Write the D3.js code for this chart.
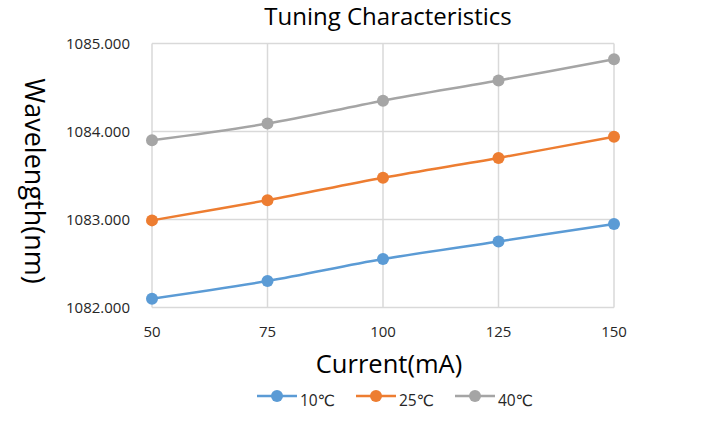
<!DOCTYPE html>
<html>
<head>
<meta charset="utf-8">
<script src="https://cdn.jsdelivr.net/npm/d3@7"></script>
<style>
  body { margin: 0; background: #fff; }
  svg { font-family: "Open Sans", "DejaVu Sans", sans-serif; }
</style>
</head>
<body>
<svg id="chart"></svg>
<script>
const currents = [50, 75, 100, 125, 150];
const wl10 = [1082.10, 1082.30, 1082.55, 1082.75, 1082.95];
const wl25 = [1082.99, 1083.22, 1083.475, 1083.70, 1083.94];
const wl40 = [1083.90, 1084.09, 1084.35, 1084.58, 1084.82];
const seriesNames = ["10℃", "25℃", "40℃"];
const yTicks = [1082, 1083, 1084, 1085];

const width = 728;
const height = 421;
const margin = { top: 44, right: 114, bottom: 114, left: 152 };

const colors = ["#5B9BD5", "#ED7D31", "#A5A5A5"];
const series = [wl10, wl25, wl40];

const svg = d3.select("#chart").attr("width", width).attr("height", height);

const x = d3.scaleLinear()
  .domain([50, 150])
  .range([margin.left, width - margin.right]);

const y = d3.scaleLinear()
  .domain([1082, 1085])
  .range([height - margin.bottom + 0.5, margin.top - 0.5]);

// gridlines
svg.append("g")
  .selectAll("line.h")
  .data(yTicks)
  .enter()
  .append("line")
  .attr("x1", margin.left)
  .attr("x2", width - margin.right)
  .attr("y1", (d) => y(d))
  .attr("y2", (d) => y(d))
  .attr("stroke", "#D9D9D9")
  .attr("stroke-width", 1.5);

svg.append("g")
  .selectAll("line.v")
  .data(currents)
  .enter()
  .append("line")
  .attr("x1", (d) => x(d))
  .attr("x2", (d) => x(d))
  .attr("y1", y(1085))
  .attr("y2", y(1082))
  .attr("stroke", "#D9D9D9")
  .attr("stroke-width", 1.5);

// tick labels
svg.append("g")
  .selectAll("text")
  .data(yTicks)
  .enter()
  .append("text")
  .attr("x", margin.left - 22)
  .attr("y", (d) => y(d) + 5)
  .attr("text-anchor", "end")
  .attr("font-size", "15px")
  .attr("fill", "#262626")
  .text((d) => d3.format(".3f")(d));

svg.append("g")
  .selectAll("text")
  .data(currents)
  .enter()
  .append("text")
  .attr("x", (d) => x(d))
  .attr("y", 337)
  .attr("text-anchor", "middle")
  .attr("font-size", "15px")
  .attr("fill", "#262626")
  .text((d) => d);

// lines + markers
const line = d3.line()
  .x((d, i) => x(currents[i]))
  .y((d) => y(d))
  .curve(d3.curveCatmullRom.alpha(0.5));

series.forEach((s, k) => {
  svg.append("path")
    .datum(s)
    .attr("d", line)
    .attr("fill", "none")
    .attr("stroke", colors[k])
    .attr("stroke-width", 2.5);

  svg.append("g")
    .selectAll("circle")
    .data(s)
    .enter()
    .append("circle")
    .attr("cx", (d, i) => x(currents[i]))
    .attr("cy", (d) => y(d))
    .attr("r", 6)
    .attr("fill", colors[k]);
});

// titles
svg.append("text")
  .attr("x", 388)
  .attr("y", 25)
  .attr("text-anchor", "middle")
  .attr("font-size", "24px")
  .attr("fill", "#000")
  .text("Tuning Characteristics");

svg.append("text")
  .attr("transform", "translate(25,181) rotate(90)")
  .attr("text-anchor", "middle")
  .attr("font-size", "27px")
  .attr("fill", "#000")
  .text("Wavelength(nm)");

svg.append("text")
  .attr("x", 389)
  .attr("y", 373)
  .attr("text-anchor", "middle")
  .attr("font-size", "25.5px")
  .attr("fill", "#000")
  .text("Current(mA)");

// legend
const legendX = [257, 356, 455];
const legend = svg.append("g")
  .selectAll("g")
  .data(seriesNames)
  .enter()
  .append("g")
  .attr("transform", (d, i) => `translate(${legendX[i]},396)`);

legend.append("line")
  .attr("x1", 0)
  .attr("x2", 40)
  .attr("stroke", (d, i) => colors[i])
  .attr("stroke-width", 2.5);

legend.append("circle")
  .attr("cx", 20)
  .attr("r", 6)
  .attr("fill", (d, i) => colors[i]);

legend.append("text")
  .attr("x", 43)
  .attr("y", 10)
  .attr("font-size", "15.5px")
  .attr("fill", "#262626")
  .text((d) => d);
</script>
</body>
</html>
